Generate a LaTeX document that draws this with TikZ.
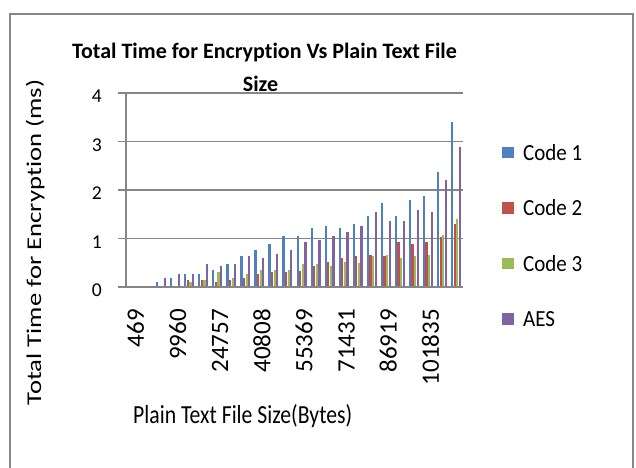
\documentclass[tikz,border=0pt]{standalone}
\usepackage{fontspec}
\setmainfont{Carlito}[Ligatures={NoCommon}]
\usepackage{xcolor}
\usepackage{tikz}
\usetikzlibrary{positioning}
\definecolor{codeone}{HTML}{4F81BD}
\definecolor{codetwo}{HTML}{C0504D}
\definecolor{codethree}{HTML}{9BBB59}
\definecolor{aescol}{HTML}{8064A2}
\definecolor{axisgrey}{HTML}{868686}
\tikzset{
  gridline/.style={draw=axisgrey, line width=1.6pt},
  framebox/.style={draw=axisgrey, line width=1.5pt},
  charttitle/.style={font=\fontsize{22}{26}\selectfont\bfseries, inner sep=0pt, anchor=base},
  yticklab/.style={font=\fontsize{19.6}{22}\selectfont, inner sep=0pt, anchor=base east},
  xticklab/.style={font=\fontsize{25}{28}\selectfont, inner sep=0pt, anchor=base east, rotate=90},
  legendsq/.style={minimum size=11.5pt, inner sep=0pt, draw=none},
  legendtxt/.style={font=\fontsize{21}{24}\selectfont, inner sep=0pt, yscale=1.1}
}

\begin{document}
\begin{tikzpicture}[x=1pt, y=-1pt]
\useasboundingbox (0,0) rectangle (636,467);
\clip (0,0) rectangle (636,467);
\fill[white] (0,0) rectangle (636,467);
\draw[framebox] (10,480) -- (10,14) -- (633,14) -- (633,480);

% title
\node[charttitle] (title) at (264.5,58) {Total Time for Encryption Vs Plain Text File};
\node[charttitle] (titletwo) at (260.5,91) {Size};

% grid and axis
\foreach \v in {0,...,4}
{
  \draw[gridline] (118,287-48.5*\v) -- (463,287-48.5*\v);
  \node[yticklab] (yt\v) at (102,296.7-48.5*\v) {\v};
}
\draw[gridline] (126,93) -- (126,287);

% bars
\foreach \ya/\yb/\yc/\yd [count=\i] in {
  0.01/0.01/0.01/0.01, 0.02/0.01/0.01/0.02, 0.10/0.01/0.01/0.19, 0.19/0.01/0.01/0.26,
  0.26/0.15/0.11/0.26, 0.26/0.14/0.14/0.47, 0.35/0.10/0.31/0.43, 0.47/0.14/0.19/0.47,
  0.64/0.18/0.27/0.64, 0.76/0.27/0.35/0.60, 0.89/0.31/0.35/0.68, 1.05/0.31/0.35/0.76,
  1.05/0.34/0.47/0.93, 1.22/0.43/0.47/0.97, 1.26/0.51/0.43/1.05, 1.22/0.59/0.51/1.13,
  1.29/0.63/0.50/1.25, 1.46/0.67/0.63/1.54, 1.74/0.63/0.67/1.37, 1.46/0.92/0.59/1.37,
  1.79/0.88/0.63/1.58, 1.87/0.92/0.67/1.54, 2.37/1.04/1.08/2.20, 3.40/1.29/1.41/2.89}
{
  \pgfmathsetmacro\xc{126+(\i-0.5)*14.04}
  \fill[codeone] (\xc-5.0,287) rectangle (\xc-2.8,287-48.5*\ya);
  \fill[codetwo] (\xc-2.4,287) rectangle (\xc-0.2,287-48.5*\yb);
  \fill[codethree] (\xc+0.2,287) rectangle (\xc+2.4,287-48.5*\yc);
  \fill[aescol] (\xc+2.8,287) rectangle (\xc+5.0,287-48.5*\yd);
}
\draw[gridline] (118,287) -- (463,287);

% category labels
\foreach \lab [count=\k] in {469,9960,24757,40808,55369,71431,86919,101835}
{
  \pgfmathsetmacro\xl{126+(3*\k-2.5)*14.04+10.9}
  \node[xticklab] (xt\k) at (\xl,309) {\lab};
}

% axis titles
\node[rotate=90, xscale=1.27, anchor=base, inner sep=0pt, font=\fontsize{21}{24}\selectfont] (ytitle) at (41,242.5) {Total Time for Encryption (ms)};
\node[yscale=1.2, anchor=base west, inner sep=0pt, font=\fontsize{21.7}{24}\selectfont] (xtitle) at (133,423) {Plain Text File Size(Bytes)};

% legend
\node[legendsq, fill=codeone] (keyone) at (508,152.5) {};
\node[legendsq, fill=codetwo] (keytwo) at (508,208) {};
\node[legendsq, fill=codethree] (keythree) at (508,263.5) {};
\node[legendsq, fill=aescol] (keyaes) at (508,319) {};
\node[legendtxt, right=9pt of keyone] (labone) {Code 1};
\node[legendtxt, right=9pt of keytwo] (labtwo) {Code 2};
\node[legendtxt, right=9pt of keythree] (labthree) {Code 3};
\node[legendtxt, right=9pt of keyaes] (labaes) {AES};
\end{tikzpicture}
\end{document}
